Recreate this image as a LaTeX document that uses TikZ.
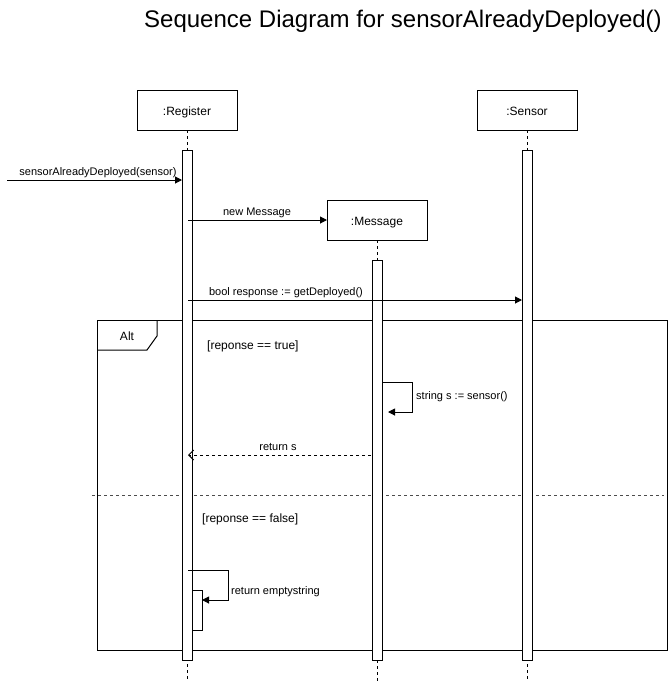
\documentclass[tikz,border=0pt]{standalone}
\usepackage{fontspec}
\setmainfont{Liberation Sans}
\usetikzlibrary{arrows.meta,calc}
\begin{document}
\begin{tikzpicture}[x=1pt,y=-1pt,
  objbox/.style={draw, line width=1pt, minimum width=100pt, minimum height=40pt, inner sep=0pt, outer sep=0pt, text height=10pt, text depth=0pt, font=\fontsize{12}{14}\selectfont},
  actbox/.style={draw, fill=white, line width=1pt, minimum width=10pt, inner sep=0pt, outer sep=0pt, anchor=north},
  lifeline/.style={line width=1pt, dash pattern=on 3pt off 3pt},
  callarrow/.style={line width=1pt, -{Triangle[length=7pt,width=7pt]}},
  retarrow/.style={line width=1pt, dash pattern=on 3pt off 3pt, -{Straight Barb[length=5pt,width=10pt]}},
  lbl/.style={font=\fontsize{11}{13}\selectfont, inner sep=0pt},
  guard/.style={font=\fontsize{12}{14}\selectfont, inner sep=0pt},
]
\useasboundingbox (0,0) rectangle (668,681);

% title
\node[font=\fontsize{24}{28}\selectfont, inner sep=0pt] (title) at (403,21) {Sequence Diagram for sensorAlreadyDeployed()};

% alt frame
\node[draw, line width=1pt, minimum width=570pt, minimum height=330pt, inner sep=0pt, outer sep=0pt, anchor=north west] (alt) at (97,320) {};
\draw[line width=1pt] ($(alt.north west)+(0,30)$) -- ($(alt.north west)+(50,30)$) -- ($(alt.north west)+(60,16)$) -- ($(alt.north west)+(60,0)$);
\node[guard] (altlbl) at (127,336.5) {Alt};
\coordinate (sepL) at (92,495);
\coordinate (sepR) at (664,495);
\draw[line width=1pt, dash pattern=on 3pt off 3pt, black!70] (sepL) -- (sepR);
\node[guard, anchor=west] (g1) at (207,346.5) {[reponse == true]};
\node[guard, anchor=west] (g2) at (202,519.5) {[reponse == false]};

% objects
\node[objbox] (reg) at (187,110) {:Register};
\node[objbox] (sen) at (527,110) {:Sensor};
\node[objbox] (msg) at (377,220) {:Message};

% lifelines
\coordinate (regend) at (187,681);
\coordinate (senend) at (527,681);
\coordinate (msgend) at (377,681);
\draw[lifeline] (reg.south) -- (regend);
\draw[lifeline] (sen.south) -- (senend);
\draw[lifeline] (msg.south) -- (msgend);

% activations
\node[actbox, minimum height=510pt] (ra) at (187,150) {};
\node[actbox, minimum height=510pt] (sa) at (527,150) {};
\node[actbox, minimum height=400pt] (ma) at (377,260) {};
\node[actbox, minimum height=40pt] (na) at (197,590) {};

% incoming call
\coordinate (start) at (7,180);
\draw[callarrow] (start) -- (start -| ra.west);
\node[lbl] (l1) at (98,172.5) {sensorAlreadyDeployed(sensor)};

% new Message
\coordinate (nm) at (188,220);
\draw[callarrow] (nm) -- (nm -| msg.west);
\node[lbl] (l2) at (257,212.5) {new Message};

% getDeployed
\coordinate (gd) at (188,300);
\draw[callarrow] (gd) -- (gd -| sa.west);
\node[lbl] (l3) at (286,292.5) {bool response := getDeployed()};

% self call on Message
\coordinate (s1) at (382,382);
\coordinate (s2) at (412,382);
\coordinate (s3) at (412,412);
\coordinate (s4) at (388,412);
\draw[callarrow] (s1) -- (s2) -- (s3) -- (s4);
\node[lbl, anchor=west] (l4) at (416,396.5) {string s := sensor()};

% return s
\coordinate (rs) at (371,455);
\draw[retarrow] (rs) -- (rs -| 188,0);
\node[lbl] (l5) at (278,446.5) {return s};

% self call on Register
\coordinate (e1) at (188,570);
\coordinate (e2) at (228,570);
\coordinate (e3) at (228,600);
\draw[callarrow] (e1) -- (e2) -- (e3) -- (e3 -| na.east);
\node[lbl, anchor=west] (l6) at (231,591.5) {return emptystring};
\end{tikzpicture}
\end{document}
